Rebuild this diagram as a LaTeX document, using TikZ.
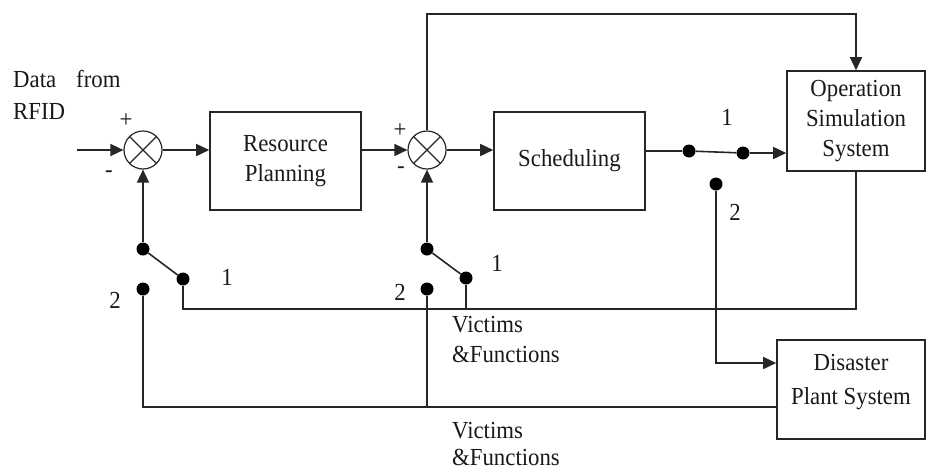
\documentclass[tikz,border=0pt]{standalone}
\usepackage{fontspec}
\setmainfont{Liberation Serif}[FakeStretch=0.93]
\usetikzlibrary{arrows.meta}
\begin{document}
\begin{tikzpicture}[x=1pt,y=-1pt,
  font=\fontsize{24.5}{30}\selectfont,
  every node/.style={text=black!90},
  wire/.style={line width=1.6pt, draw=black!85},
  flow/.style={wire, -{Triangle[length=13pt,width=12pt]}},
  block/.style={draw=black!85, line width=1.6pt, align=center, inner sep=0pt},
  summer/.style={circle, draw=black!85, line width=1.2pt, minimum size=38pt, inner sep=0pt,
    path picture={\draw[line width=1.2pt, black!85]
      (path picture bounding box.north west) -- (path picture bounding box.south east)
      (path picture bounding box.north east) -- (path picture bounding box.south west);}},
  contact/.style={circle, fill=black, inner sep=0pt, minimum size=13pt},
  tag/.style={inner sep=0pt, anchor=center},
  note/.style={inner sep=0pt, anchor=base west}
]
\useasboundingbox (0,0) rectangle (928,472);

% blocks
\node[block, minimum width=151pt, minimum height=98pt] (rp) at (285.5,161) {Resource\\Planning};
\node[block, minimum width=151pt, minimum height=98pt] (sched) at (569.5,161) {Scheduling};
\node[block, minimum width=138pt, minimum height=100pt] (ops) at (856,121) {Operation\\Simulation\\System};
\node[block, minimum width=148pt, minimum height=99pt] (dis) at (851,389.5) {};
\node[inner sep=0pt, anchor=north, align=center, font=\fontsize{24.5}{34}\selectfont] (distext) at (851,354) {Disaster\\Plant System};

% summing junctions
\node[summer] (j1) at (143,150) {};
\node[summer] (j2) at (427,150) {};

% switch contacts
\node[contact] (s1a) at (143,249) {};
\node[contact] (s1b) at (183,279) {};
\node[contact] (s1c) at (143,289) {};
\node[contact] (s2a) at (427,249) {};
\node[contact] (s2b) at (466,278) {};
\node[contact] (s2c) at (427,289) {};
\node[contact] (s3a) at (689,151) {};
\node[contact] (s3b) at (743,153) {};
\node[contact] (s3c) at (716,184) {};

% helper points
\coordinate (in) at (77,150);
\coordinate (top) at (856,14);
\coordinate (fb1) at (183,309);
\coordinate (fb2) at (143,407);
\coordinate (tap) at (716,363);

% forward path
\draw[flow] (in) -- (j1);
\draw[flow] (j1) -- (j1 -| rp.west);
\draw[flow] (rp.east |- j2) -- (j2);
\draw[flow] (j2) -- (j2 -| sched.west);
\draw[wire] (sched.east |- s3a) -- (s3a);
\draw[wire] (s3a) -- (s3b);
\draw[flow] (s3b) -- (s3b -| ops.west);
\draw[flow] (j2) |- (top) -- (ops);
\draw[flow] (s3c) -- (tap) -- (tap -| dis.west);

% switch blades and feedback
\draw[wire] (s1a) -- (s1b);
\draw[wire] (s2a) -- (s2b);
\draw[flow] (s1a) -- (j1);
\draw[flow] (s2a) -- (j2);
\draw[wire] (ops.south) |- (fb1) -- (s1b);
\draw[wire] (s2b) -- (s2b |- fb1);
\draw[wire] (s1c) -- (fb2) -- (fb2 -| dis.west);
\draw[wire] (s2c) -- (s2c |- fb2);

% labels
\node[note] (d1) at (13,87) {Data};
\node[note] (d2) at (76,87) {from};
\node[note] (d3) at (13,119) {RFID};
\node[tag] (p1) at (126,121) {+};
\node[tag] (m1) at (109,174) {-};
\node[tag] (p2) at (400,131) {+};
\node[tag] (m2) at (401,170) {-};
\node[tag] (n1a) at (227,277.5) {1};
\node[tag] (n1b) at (115,300) {2};
\node[tag] (n2a) at (497,263) {1};
\node[tag] (n2b) at (400,292.5) {2};
\node[tag] (n3a) at (727,117.5) {1};
\node[tag] (n3b) at (735,212) {2};
\node[note] (v1) at (452,332) {Victims};
\node[note] (f1) at (452,362) {\&Functions};
\node[note] (v2) at (452,438) {Victims};
\node[note] (f2) at (452,465) {\&Functions};
\end{tikzpicture}
\end{document}
